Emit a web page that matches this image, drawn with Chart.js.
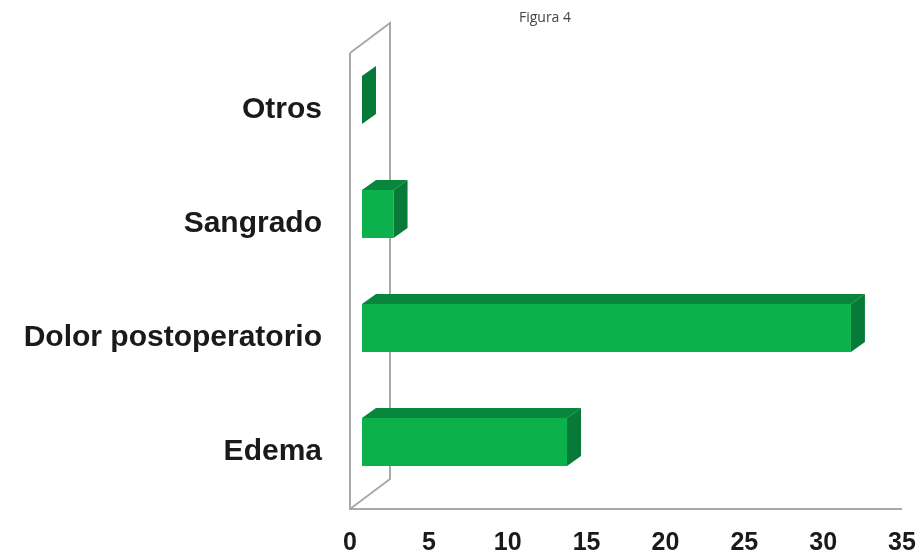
<!DOCTYPE html>
<html>
<head>
<meta charset="utf-8">
<script src="https://cdn.jsdelivr.net/npm/chart.js@4/dist/chart.umd.min.js"></script>
<style>
  html, body { margin: 0; padding: 0; background: #ffffff; }
  #wrap { position: relative; width: 921px; height: 554px; }
  #title { position: absolute; left: 445px; width: 200px; top: 7px; text-align: center;
           font-family: 'Open Sans', 'Noto Sans', sans-serif; font-size: 14px; color: #444; }
  canvas { position: absolute; left: 0; top: 0; }
</style>
</head>
<body>
<div id="wrap">
  <canvas id="c" width="921" height="554"></canvas>
  <div id="title">Figura 4</div>
</div>
<script>
// Data
const categories = ['Otros', 'Sangrado', 'Dolor postoperatorio', 'Edema'];
const values = [0, 2, 31, 13];
const xTicks = [0, 5, 10, 15, 20, 25, 30, 35];

const FRONT = '#0db14b';
const TOP = '#08863b';
const SIDE = '#067a36';
const WALL = '#a9a9a9';
const SHIFT = { x: 12, y: -10 };   // front plane of bars relative to axis plane
const DEPTH = { x: 14, y: -10 };   // bar depth
const WALLDEPTH = { x: 40, y: -30 };

const box3d = {
  id: 'box3d',
  beforeDatasetsDraw(chart) {
    const { ctx, chartArea: a } = chart;
    ctx.save();
    ctx.strokeStyle = WALL;
    ctx.lineWidth = 2;
    ctx.beginPath();
    ctx.moveTo(a.left, a.top); ctx.lineTo(a.left, a.bottom); ctx.lineTo(a.right, a.bottom);
    ctx.moveTo(a.left, a.bottom); ctx.lineTo(a.left + WALLDEPTH.x, a.bottom + WALLDEPTH.y);
    ctx.lineTo(a.left + WALLDEPTH.x, a.top + WALLDEPTH.y); ctx.lineTo(a.left, a.top);
    ctx.stroke();
    ctx.restore();
    ctx.save();
    ctx.translate(SHIFT.x, SHIFT.y);
  },
  afterDatasetsDraw(chart) {
    const { ctx } = chart;
    const meta = chart.getDatasetMeta(0);
    meta.data.forEach(el => {
      const p = el.getProps(['x', 'y', 'base', 'height'], true);
      const top = p.y - p.height / 2, bot = p.y + p.height / 2;
      const x0 = Math.min(p.base, p.x), x1 = Math.max(p.base, p.x);
      if (x1 - x0 > 0.5) {
        ctx.fillStyle = TOP;
        ctx.beginPath();
        ctx.moveTo(x0, top); ctx.lineTo(x1, top);
        ctx.lineTo(x1 + DEPTH.x, top + DEPTH.y); ctx.lineTo(x0 + DEPTH.x, top + DEPTH.y);
        ctx.closePath(); ctx.fill();
      }
      ctx.fillStyle = SIDE;
      ctx.beginPath();
      ctx.moveTo(x1, top); ctx.lineTo(x1 + DEPTH.x, top + DEPTH.y);
      ctx.lineTo(x1 + DEPTH.x, bot + DEPTH.y); ctx.lineTo(x1, bot);
      ctx.closePath(); ctx.fill();
    });
    ctx.restore();
  }
};

new Chart(document.getElementById('c'), {
  type: 'bar',
  data: {
    labels: categories,
    datasets: [{
      data: values,
      backgroundColor: FRONT,
      borderWidth: 0,
      barPercentage: 0.42,
      categoryPercentage: 1
    }]
  },
  options: {
    indexAxis: 'y',
    responsive: false,
    animation: false,
    devicePixelRatio: 1,
    layout: { padding: { top: 53, right: 19, left: 0, bottom: 0 } },
    plugins: { legend: { display: false }, tooltip: { enabled: false }, title: { display: false } },
    scales: {
      x: {
        min: 0, max: 35,
        afterBuildTicks(scale) { scale.ticks = xTicks.map(v => ({ value: v })); },
        grid: { display: false, drawTicks: false },
        border: { display: false },
        ticks: { padding: 19, color: '#1a1a1a', maxRotation: 0,
                 font: { family: "'Liberation Sans', Arial, sans-serif", size: 25, weight: 'bold' } },
        afterFit(scale) { scale.height = 45; scale.paddingRight = 0; scale.paddingLeft = 0; }
      },
      y: {
        grid: { display: false, drawTicks: false },
        border: { display: false },
        ticks: { padding: 28, color: '#1a1a1a',
                 font: { family: "'Liberation Sans', Arial, sans-serif", size: 30, weight: 'bold' } },
        afterFit(scale) { scale.width = 350; scale.paddingTop = 0; scale.paddingBottom = 0; }
      }
    }
  },
  plugins: [box3d]
});
</script>
</body>
</html>
